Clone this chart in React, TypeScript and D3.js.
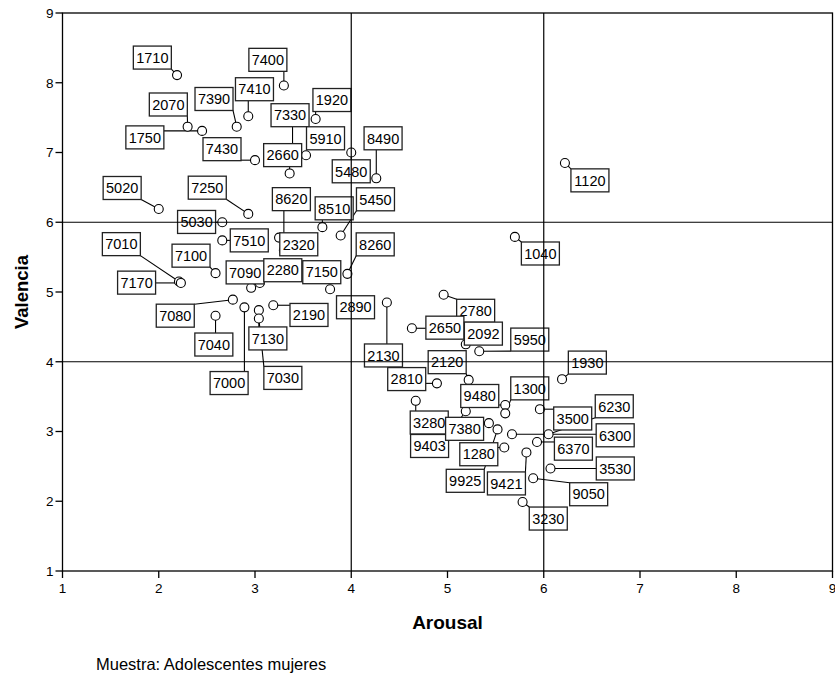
import * as d3 from "d3";

// word codes and their mean ratings
const words = [
  "1710", "2070", "1750", "7400", "7410", "7390", "1920", "7330", "7430", "5910",
  "2660", "8490", "5480", "1120", "5020", "7250", "5030", "7510", "8620", "2320",
  "8510", "5450", "8260", "7150", "2890", "1040", "7010", "7170", "7100", "7090",
  "2280", "7080", "7000", "2190", "7040", "7130", "7030", "2130", "2780", "2650",
  "2092", "5950", "2120", "2810", "3280", "9403", "7380", "9925", "9480", "1300",
  "6300", "1280", "9421", "6370", "3500", "6230", "3530", "9050", "3230", "1930",
];
const arousal = [
  2.19, 2.30, 2.45, 3.30, 2.93, 2.81, 3.63, 3.39, 3.00, 3.53,
  3.36, 4.26, 4.00, 6.22, 2.00, 2.93, 2.66, 2.66, 3.30, 3.25,
  3.70, 3.89, 3.96, 3.78, 4.01, 5.70, 2.21, 2.23, 2.59, 2.96,
  3.05, 2.77, 2.89, 3.19, 2.59, 3.04, 3.04, 4.37, 4.96, 4.63,
  5.19, 5.33, 5.22, 4.89, 4.67, 5.19, 5.43, 5.52, 5.60, 5.60,
  5.67, 5.59, 5.82, 5.93, 5.96, 6.05, 6.07, 5.89, 5.78, 6.19,
];
const valencia = [
  8.11, 7.37, 7.31, 7.96, 7.52, 7.37, 7.48, 7.04, 6.89, 6.96,
  6.70, 6.63, 7.00, 6.85, 6.19, 6.12, 6.00, 5.74, 5.60, 5.78,
  5.93, 5.81, 5.26, 5.04, 4.80, 5.79, 5.15, 5.13, 5.27, 5.06,
  5.13, 4.89, 4.78, 4.81, 4.66, 4.74, 4.62, 4.85, 4.96, 4.48,
  4.25, 4.15, 3.74, 3.69, 3.44, 3.29, 3.12, 3.03, 3.38, 3.26,
  2.96, 2.77, 2.70, 2.85, 3.32, 2.96, 2.47, 2.33, 1.99, 3.75,
];
const xTicks = [1, 2, 3, 4, 5, 6, 7, 8, 9];
const yTicks = [1, 2, 3, 4, 5, 6, 7, 8, 9];
const xRefLines = [4, 6];
const yRefLines = [4, 6];

// label box placement, pixel offset of the box centre from its point
const LABEL_OFFSET: Record<string, [number, number]> = {
  "1710": [-24.7, -17.5], "2070": [-19.3, -22.2], "1750": [-57.2, 6.5], "7400": [-16, -25.7],
  "7410": [6.2, -27], "7390": [-22.7, -27.7], "1920": [16.3, -19], "7330": [-2.5, -34.5],
  "7430": [-33, -11], "5910": [19.5, -17], "2660": [-7, -18.3], "8490": [6.8, -40],
  "5480": [0, 18.8], "1120": [25, 17.4], "5020": [-36.6, -21], "7250": [-41, -26.2],
  "5030": [-25.7, -0.3], "7510": [27, 0], "8620": [7.5, -51], "2320": [19.7, 6.7],
  "8510": [11.8, -18.8], "5450": [34.8, -36.2], "8260": [27.8, -29.5], "7150": [-8.3, -17],
  "2890": [3.3, 1.3], "1040": [25.5, 16.6], "7010": [-57.6, -37.4], "7170": [-44.3, -0.3],
  "7100": [-24.5, -17.5], "7090": [-6, -15.4], "2280": [23, -12.7], "7080": [-57.6, 16],
  "7000": [-15.3, 75.7], "2190": [35.7, 9.7], "7040": [-1.7, 28.8], "7130": [9, 28.3],
  "7030": [24, 59.4], "2130": [-3.4, 53], "2780": [32, 16], "2650": [33, -0.6],
  "2092": [17.6, -10.7], "5950": [50.5, -11.7], "2120": [-21.5, -17.7], "2810": [-30.2, -4.3],
  "3280": [13.5, 21.7], "9403": [-36.2, 34.7], "7380": [-24.3, 5.7], "9925": [-32.3, 51.4],
  "9480": [-25.5, -9], "1300": [24.5, -25], "6300": [103.2, 1], "1280": [-25.5, 6.7],
  "9421": [-20, 31], "6370": [36.4, 6.7], "3500": [32.8, 9.3], "6230": [65.7, -28],
  "3530": [64.8, 0], "9050": [55.5, 16], "3230": [25.7, 16.6], "1930": [25.3, -16.6],
};

const W = 835;
const H = 675;
const FONT = "'Liberation Sans', Arial, sans-serif";
const BOX_W = 38;
const BOX_H = 23;
const R = 4.5;

export default function App() {
  const x = d3.scaleLinear().domain([1, 9]).range([62.5, 832.5]);
  const y = d3.scaleLinear().domain([1, 9]).range([571, 13]);
  const [x0, x1] = x.range();
  const [y0, y1] = y.range();

  const pts = words.map((w, i) => {
    const px = x(arousal[i]);
    const py = y(valencia[i]);
    const [dx, dy] = LABEL_OFFSET[w];
    const cx = px + dx;
    const cy = py + dy;
    const bx0 = cx - BOX_W / 2, bx1 = cx + BOX_W / 2;
    const by0 = cy - BOX_H / 2, by1 = cy + BOX_H / 2;
    const nx = Math.max(bx0, Math.min(bx1, px));
    const ny = Math.max(by0, Math.min(by1, py));
    const dist = Math.hypot(nx - px, ny - py);
    return { w, px, py, cx, cy, nx, ny, lead: dist > R + 1.5 };
  });

  return (
    <div>
      <style>{`body{margin:0}`}</style>
      <svg width={W} height={H} style={{ display: "block", background: "#fff" }} fontFamily={FONT}>
        {/* leaders */}
        <g stroke="#000" strokeWidth={1.1}>
          {pts.filter((p) => p.lead).map((p) => (
            <line key={"l" + p.w} x1={p.px} y1={p.py} x2={p.nx} y2={p.ny} />
          ))}
        </g>
        {/* points */}
        <g fill="#fff" stroke="#000" strokeWidth={1.1}>
          {pts.map((p) => (
            <circle key={"c" + p.w} cx={p.px} cy={p.py} r={R} />
          ))}
        </g>
        {/* label boxes */}
        <g>
          {pts.map((p) => (
            <g key={"b" + p.w}>
              <rect x={p.cx - BOX_W / 2} y={p.cy - BOX_H / 2} width={BOX_W} height={BOX_H}
                fill="#fff" stroke="#222" strokeWidth={1.3} />
              <text x={p.cx} y={p.cy} dy="0.36em" textAnchor="middle" fontSize={14.5} fill="#000">{p.w}</text>
            </g>
          ))}
        </g>
        {/* reference lines */}
        <g stroke="#000" strokeWidth={1.2}>
          {xRefLines.map((v) => <line key={"xr" + v} x1={x(v)} x2={x(v)} y1={y0} y2={y1} />)}
          {yRefLines.map((v) => <line key={"yr" + v} x1={x0} x2={x1} y1={y(v)} y2={y(v)} />)}
        </g>
        {/* frame */}
        <rect x={x0} y={y1} width={x1 - x0} height={y0 - y1} fill="none" stroke="#000" strokeWidth={1.3} />
        {/* ticks */}
        <g stroke="#000" strokeWidth={1.3}>
          {xTicks.map((t) => <line key={"xt" + t} x1={x(t)} x2={x(t)} y1={y0} y2={y0 + 7} />)}
          {yTicks.map((t) => <line key={"yt" + t} x1={x0 - 7} x2={x0} y1={y(t)} y2={y(t)} />)}
        </g>
        <g fontSize={13.5} fill="#000">
          {xTicks.map((t) => (
            <text key={"xl" + t} x={x(t)} y={y0 + 22} textAnchor="middle">{t}</text>
          ))}
          {yTicks.map((t) => (
            <text key={"yl" + t} x={x0 - 9} y={y(t)} dy="0.36em" textAnchor="end">{t}</text>
          ))}
        </g>
        <text x={(x0 + x1) / 2} y={629} textAnchor="middle" fontSize={19} fontWeight="bold">Arousal</text>
        <text transform={`translate(28,${(y0 + y1) / 2}) rotate(-90)`} textAnchor="middle" fontSize={18.5} fontWeight="bold">Valencia</text>
        <text x={96} y={670} fontSize={16.5}>Muestra: Adolescentes mujeres</text>
      </svg>
    </div>
  );
}
